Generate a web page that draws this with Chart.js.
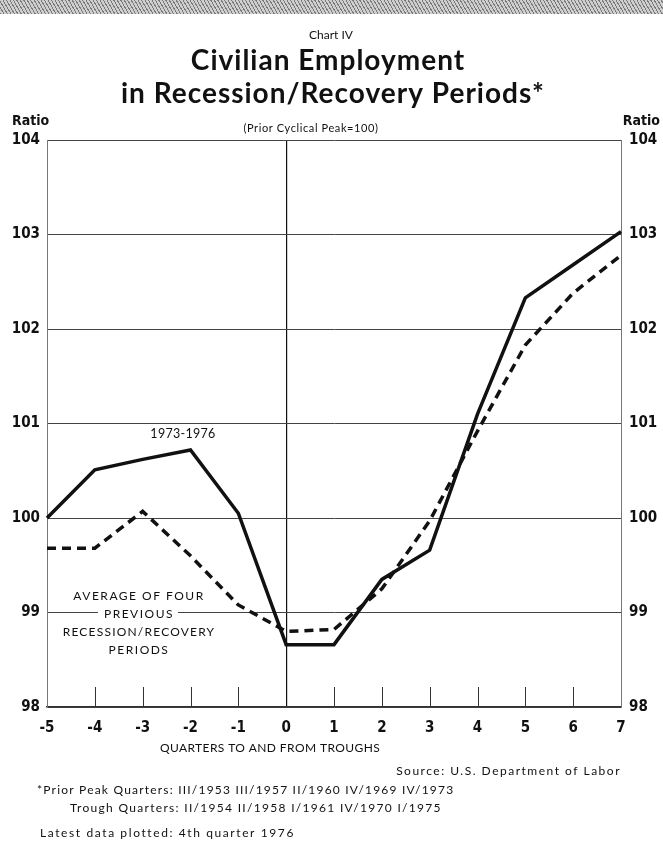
<!DOCTYPE html>
<html>
<head>
<meta charset="utf-8">
<script src="https://cdn.jsdelivr.net/npm/chart.js@4.4.1/dist/chart.umd.min.js"></script>
<style>
    html, body { margin: 0; padding: 0; background: #fff; }
    #wrap { position: relative; width: 663px; height: 842px; }
    #band {
        position: absolute; left: 0; top: 0; width: 663px; height: 14px;
        background: repeating-linear-gradient(60deg, #7a7a7a 0 1px, #cfcfcf 1px 3px);
    }
    canvas { position: absolute; left: 0; top: 0; }
</style>
</head>
<body>
<div id="wrap">
    <canvas id="employment-chart" width="663" height="842"></canvas>
    <div id="band"></div>
</div>
<script>
// quarters to and from troughs
const quarters = ['-5', '-4', '-3', '-2', '-1', '0', '1', '2', '3', '4', '5', '6', '7'];
// 1973-1976 recession/recovery, ratio to prior cyclical peak
const recent = [100.0, 100.51, 100.62, 100.72, 100.05, 98.66, 98.66, 99.35, 99.66, 101.1, 102.33, 102.68, 103.03];
// average of four previous recession/recovery periods
const average = [99.68, 99.68, 100.07, 99.6, 99.08, 98.8, 98.82, 99.25, 99.97, 100.92, 101.83, 102.38, 102.78];
const ratioMin = 98;
const ratioMax = 104;

const numFont = '"Liberation Sans Narrow", "DejaVu Sans Condensed", "DejaVu Sans", sans-serif';
const textFont = 'Lato, "Open Sans", sans-serif';

function text(ctx, str, x, y, font, align, spacing) {
    ctx.font = font;
    ctx.textAlign = align || 'center';
    ctx.textBaseline = 'middle';
    if (spacing) ctx.letterSpacing = spacing + 'px';
    ctx.fillText(str, x, y);
    ctx.letterSpacing = '0px';
}

const decorations = {
    id: 'decorations',
    beforeDatasetsDraw(chart) {
        const ctx = chart.ctx;
        const xs = chart.scales.x;
        const bottom = chart.chartArea.bottom;
        ctx.save();
        ctx.strokeStyle = '#333';
        ctx.lineWidth = 1;
        quarters.forEach((q, i) => {
            if (i === 0 || i === quarters.length - 1 || q === '0') return;
            const px = Math.round(xs.getPixelForValue(i)) + 0.5;
            ctx.beginPath();
            ctx.moveTo(px, bottom);
            ctx.lineTo(px, bottom - 20);
            ctx.stroke();
        });
        ctx.restore();
    },
    afterDraw(chart) {
        const ctx = chart.ctx;
        ctx.save();
        ctx.fillStyle = '#111';

        text(ctx, 'Chart IV', 331, 35, '12px ' + textFont);
        text(ctx, 'Civilian Employment', 328, 61, 'bold 28px ' + textFont, 'center', 1);
        text(ctx, 'in Recession/Recovery Periods*', 333, 94, 'bold 28px ' + textFont, 'center', 1);
        text(ctx, '(Prior Cyclical Peak=100)', 311, 128, '11px ' + textFont, 'center', 0.6);
        text(ctx, 'Ratio', 12, 121, 'bold 14px ' + numFont, 'left');
        text(ctx, 'Ratio', 660, 121, 'bold 14px ' + numFont, 'right');

        text(ctx, '1973-1976', 183, 434, '12.5px ' + textFont, 'center', 0.3);

        ctx.fillStyle = '#fff';
        ctx.fillRect(98, 605, 80, 16);
        ctx.fillStyle = '#111';
        const f = '12px ' + textFont;
        text(ctx, 'AVERAGE OF FOUR', 139, 596, f, 'center', 1.5);
        text(ctx, 'PREVIOUS', 139, 614, f, 'center', 1.5);
        text(ctx, 'RECESSION/RECOVERY', 139, 632, f, 'center', 1.2);
        text(ctx, 'PERIODS', 139, 650, f, 'center', 1.5);

        text(ctx, 'QUARTERS TO AND FROM TROUGHS', 270, 748, '12px ' + textFont, 'center', 0.4);
        const s = '12px ' + textFont;
        text(ctx, 'Source: U.S. Department of Labor', 621, 771, s, 'right', 1.5);
        text(ctx, '*Prior Peak Quarters: III/1953 III/1957 II/1960 IV/1969 IV/1973', 37, 790, s, 'left', 1.2);
        text(ctx, 'Trough Quarters: II/1954 II/1958 I/1961 IV/1970 I/1975', 70, 808, s, 'left', 1.3);
        text(ctx, 'Latest data plotted: 4th quarter 1976', 40, 833, s, 'left', 1.6);
        ctx.restore();
    }
};

new Chart(document.getElementById('employment-chart'), {
    type: 'line',
    data: {
        labels: quarters,
        datasets: [
            {
                label: '1973-1976',
                data: recent,
                borderColor: '#111',
                borderWidth: 3.5,
                pointRadius: 0,
                tension: 0,
                yAxisID: 'y'
            },
            {
                label: 'Average of four previous recession/recovery periods',
                data: average,
                borderColor: '#111',
                borderWidth: 3.5,
                borderDash: [9, 6],
                pointRadius: 0,
                tension: 0,
                yAxisID: 'y'
            }
        ]
    },
    options: {
        responsive: false,
        animation: false,
        layout: { padding: { top: 140, left: 0, right: 0, bottom: 0 } },
        plugins: {
            legend: { display: false },
            tooltip: { enabled: false }
        },
        scales: {
            x: {
                type: 'category',
                offset: false,
                afterFit: s => { s.height = 135; },
                grid: {
                    color: c => (c.tick && quarters[c.tick.value] === '0') ? '#111' : 'rgba(0,0,0,0)',
                    lineWidth: 1.2,
                    drawTicks: false
                },
                border: { display: true, color: '#333', width: 1.5 },
                ticks: {
                    color: '#111',
                    padding: 12,
                    maxRotation: 0,
                    autoSkip: false,
                    font: { family: numFont, size: 15, weight: 'bold' }
                }
            },
            y: {
                position: 'left',
                min: ratioMin,
                max: ratioMax,
                afterFit: s => { s.width = 47; },
                grid: { color: '#444', lineWidth: 1, drawTicks: false },
                border: { display: true, color: '#777', width: 1 },
                ticks: {
                    stepSize: 1,
                    color: '#111',
                    padding: 7,
                    font: { family: numFont, size: 15, weight: 'bold' }
                }
            },
            y2: {
                position: 'right',
                min: ratioMin,
                max: ratioMax,
                afterFit: s => { s.width = 42; },
                grid: { display: false, drawTicks: false },
                border: { display: true, color: '#777', width: 1 },
                ticks: {
                    stepSize: 1,
                    color: '#111',
                    padding: 8,
                    font: { family: numFont, size: 15, weight: 'bold' }
                }
            }
        }
    },
    plugins: [decorations]
});
</script>
</body>
</html>
